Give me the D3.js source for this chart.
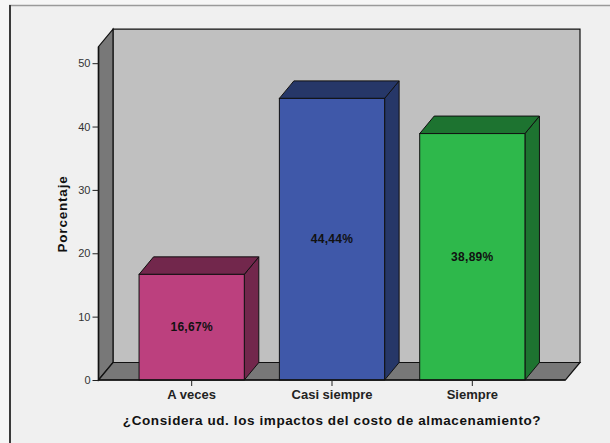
<!DOCTYPE html>
<html>
<head>
<meta charset="utf-8">
<script src="https://cdn.jsdelivr.net/npm/d3@7"></script>
<style>
  html, body { margin: 0; padding: 0; background: #f6f6f6; }
  svg { display: block; }
  text { font-family: "Liberation Sans", Arial, sans-serif; }
</style>
</head>
<body>
<svg id="chart" width="610" height="443"></svg>
<script>
// Survey answers and their percentages
const categories = ["A veces", "Casi siempre", "Siempre"];
const values = [16.67, 44.44, 38.89];
const valueLabels = ["16,67%", "44,44%", "38,89%"];
const yTicks = [0, 10, 20, 30, 40, 50];
const frontColors = ["#bc407e", "#3f58a9", "#2eb84b"];
const shadeColors = ["#72274c", "#263768", "#1d7330"];

const svg = d3.select("#chart");

// Panel frame
svg.append("rect").attr("x", 9).attr("y", 5).attr("width", 610).attr("height", 450)
  .attr("fill", "#f0f0f0");
svg.append("line").attr("x1", 9).attr("x2", 610).attr("y1", 5.5).attr("y2", 5.5)
  .attr("stroke", "#9a9a9a").attr("stroke-width", 1.5);
svg.append("line").attr("x1", 10).attr("x2", 10).attr("y1", 5).attr("y2", 443)
  .attr("stroke", "#3a3a3a").attr("stroke-width", 2);

// Plot geometry: front plane plus a depth offset for the 3D box
const x0 = 98.5, x1 = 565.5;
const yBase = 380, yTop = 46.7;
const dx = 14.5, dy = -17.5;

const y = d3.scaleLinear().domain([0, 52.6]).range([yBase, yTop]);
const x = d3.scaleBand().domain(categories).range([x0, x1])
  .paddingInner(0.25).paddingOuter(0.289);

const pts = a => a.map(p => p.join(",")).join(" ");
const stroke = "#111";

// Back wall
svg.append("polygon")
  .attr("points", pts([[x0 + dx, yTop + dy], [x1 + dx, yTop + dy], [x1 + dx, yBase + dy], [x0 + dx, yBase + dy]]))
  .attr("fill", "#c0c0c0").attr("stroke", stroke).attr("stroke-width", 1.2);
// Left side wall
svg.append("polygon")
  .attr("points", pts([[x0, yBase], [x0, yTop], [x0 + dx, yTop + dy], [x0 + dx, yBase + dy]]))
  .attr("fill", "#787878").attr("stroke", stroke).attr("stroke-width", 1.2);
// Floor
svg.append("polygon")
  .attr("points", pts([[x0, yBase], [x1, yBase], [x1 + dx, yBase + dy], [x0 + dx, yBase + dy]]))
  .attr("fill", "#787878").attr("stroke", stroke).attr("stroke-width", 1.2);

// Bars as boxes
const bars = svg.append("g").selectAll("g").data(values).join("g");
bars.each(function(v, i) {
  const g = d3.select(this);
  const bx = x(categories[i]), bw = x.bandwidth(), by = y(v);
  g.append("polygon") // right side
    .attr("points", pts([[bx + bw, yBase], [bx + bw, by], [bx + bw + dx, by + dy], [bx + bw + dx, yBase + dy]]))
    .attr("fill", shadeColors[i]).attr("stroke", stroke).attr("stroke-width", 1);
  g.append("polygon") // top
    .attr("points", pts([[bx, by], [bx + bw, by], [bx + bw + dx, by + dy], [bx + dx, by + dy]]))
    .attr("fill", shadeColors[i]).attr("stroke", stroke).attr("stroke-width", 1);
  g.append("rect") // front
    .attr("x", bx).attr("y", by).attr("width", bw).attr("height", yBase - by)
    .attr("fill", frontColors[i]).attr("stroke", stroke).attr("stroke-width", 1);
  g.append("text")
    .attr("x", bx + bw / 2).attr("y", (by + yBase) / 2)
    .attr("text-anchor", "middle").attr("dominant-baseline", "central")
    .attr("font-size", 12).attr("font-weight", "bold").attr("fill", "#111")
    .attr("letter-spacing", 0.3)
    .text(valueLabels[i]);
});

// Front axis lines
svg.append("line").attr("x1", x0).attr("x2", x0).attr("y1", yTop).attr("y2", yBase)
  .attr("stroke", stroke).attr("stroke-width", 1.5);
svg.append("line").attr("x1", x0).attr("x2", x1).attr("y1", yBase).attr("y2", yBase)
  .attr("stroke", stroke).attr("stroke-width", 1.5);

// Y axis
const yAxis = svg.append("g").attr("transform", `translate(${x0},0)`)
  .call(d3.axisLeft(y).tickValues(yTicks).tickSize(6).tickPadding(2).tickFormat(d3.format("d")));
yAxis.select(".domain").remove();
yAxis.selectAll("line").attr("stroke", "#222");
yAxis.selectAll("text").attr("font-size", 11).attr("fill", "#333")
  .attr("font-family", "Liberation Sans, Arial, sans-serif");

// X axis
const xAxis = svg.append("g").attr("transform", `translate(0,${yBase})`)
  .call(d3.axisBottom(x).tickSize(6).tickPadding(4));
xAxis.select(".domain").remove();
xAxis.selectAll("line").attr("stroke", "#222");
xAxis.selectAll("text").attr("font-size", 13).attr("font-weight", "bold").attr("fill", "#222")
  .attr("font-family", "Liberation Sans, Arial, sans-serif");

// Axis titles
svg.append("text").attr("x", (x0 + x1) / 2).attr("y", 425)
  .attr("text-anchor", "middle").attr("font-size", 13.5).attr("font-weight", "bold").attr("fill", "#111")
  .attr("letter-spacing", 0.6)
  .text("¿Considera ud. los impactos del costo de almacenamiento?");
svg.append("text").attr("transform", "translate(67,214) rotate(-90)")
  .attr("text-anchor", "middle").attr("font-size", 13.5).attr("font-weight", "bold").attr("fill", "#111")
  .attr("letter-spacing", 0.8)
  .text("Porcentaje");
</script>
</body>
</html>
